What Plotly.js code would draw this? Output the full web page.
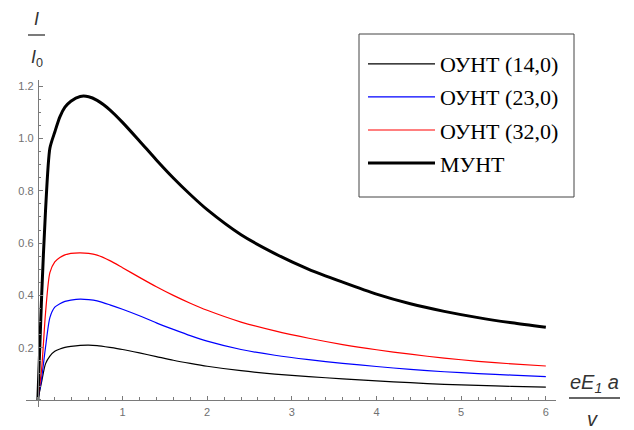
<!DOCTYPE html>
<html>
<head>
<meta charset="utf-8">
<script src="https://cdn.plot.ly/plotly-3.0.1.min.js"></script>
<style>html,body{margin:0;padding:0;background:#fff;}#chart{width:634px;height:430px;}</style>
</head>
<body>
<div id="chart"></div>
<script>
// Field parameter eE1a/ν (x) and current I/I0 (y)
const xField = [0, 0.045, 0.09, 0.142, 0.2, 0.26, 0.32, 0.39, 0.5, 0.6, 0.7, 0.85, 1.0, 1.2, 1.4, 1.6, 1.8, 2.0, 2.4, 2.8, 3.2, 3.6, 4.0, 4.4, 4.8, 5.2, 5.6, 6.0];

const seriesNames = ["ОУНТ (14,0)", "ОУНТ (23,0)", "ОУНТ (32,0)", "МУНТ"];

const y14 = [0, 0.07, 0.138, 0.168, 0.186, 0.195, 0.201, 0.205, 0.209, 0.210, 0.208, 0.201, 0.193, 0.180, 0.166, 0.152, 0.140, 0.129, 0.112, 0.099, 0.089, 0.081, 0.073, 0.066, 0.060, 0.056, 0.052, 0.049];
const y23 = [0, 0.085, 0.20, 0.315, 0.355, 0.368, 0.377, 0.382, 0.386, 0.384, 0.379, 0.364, 0.347, 0.322, 0.295, 0.270, 0.246, 0.225, 0.193, 0.171, 0.154, 0.140, 0.128, 0.117, 0.108, 0.101, 0.095, 0.089];
const y32 = [0, 0.12, 0.33, 0.487, 0.528, 0.545, 0.555, 0.561, 0.563, 0.561, 0.554, 0.533, 0.506, 0.469, 0.433, 0.400, 0.370, 0.343, 0.298, 0.264, 0.236, 0.212, 0.192, 0.175, 0.160, 0.148, 0.138, 0.130];
const yMWNT = [0, 0.40, 0.72, 0.963, 1.025, 1.083, 1.12, 1.143, 1.161, 1.160, 1.146, 1.110, 1.062, 0.991, 0.918, 0.849, 0.786, 0.728, 0.632, 0.560, 0.500, 0.451, 0.405, 0.368, 0.339, 0.315, 0.295, 0.278];

const xTickVals = [1, 2, 3, 4, 5, 6];
const xTickText = ["1", "2", "3", "4", "5", "6"];
const yTickVals = [0.2, 0.4, 0.6, 0.8, 1.0, 1.2];
const yTickText = ["0.2", "0.4", "0.6", "0.8", "1.0", "1.2"];

const W = 634, H = 430;
const xRange = [-0.14, 6.12], yRange = [-0.025, 1.224];
const xDom = [26 / W, 556 / W], yDom = [1 - 406.5 / H, 1 - 80 / H];
const yAxisPos = xDom[0] + (0 - xRange[0]) / (xRange[1] - xRange[0]) * (xDom[1] - xDom[0]);
const xAxisPos = yDom[0] + (0 - yRange[0]) / (yRange[1] - yRange[0]) * (yDom[1] - yDom[0]);

const ys = [y14, y23, y32, yMWNT];
const colors = ["#000000", "#0000ff", "#ff0000", "#000000"];
const widths = [1.2, 1.2, 1.2, 3];

const traces = ys.map((y, i) => ({
  type: "scatter", mode: "lines", x: xField, y: y, name: seriesNames[i],
  legendgroup: "g" + i,
  line: {color: colors[i], width: widths[i], shape: "spline", smoothing: 0.7}
}));

const axisCol = "#7a7a7a";
const tickFont = {family: "Liberation Sans, Arial, sans-serif", size: 11, color: "#707070"};
const titleFont = {family: "Liberation Sans, Arial, sans-serif", size: 18, color: "#333"};
const px = v => v / W, py = v => 1 - v / H;

const layout = {
  width: W, height: H,
  margin: {l: 0, r: 0, t: 0, b: 0},
  paper_bgcolor: "#fff", plot_bgcolor: "#fff",
  showlegend: true,
  legend: {
    x: px(363), y: py(43), xanchor: "left", yanchor: "top",
    borderwidth: 0, bgcolor: "rgba(0,0,0,0)",
    font: {family: "Liberation Serif, Times New Roman, serif", size: 22, color: "#000"},
    tracegroupgap: 1.5, itemwidth: 67
  },
  xaxis: {
    domain: xDom, range: xRange, anchor: "free", position: xAxisPos,
    showline: true, linecolor: axisCol, linewidth: 1,
    showgrid: false, zeroline: false,
    tickmode: "array", tickvals: xTickVals, ticktext: xTickText,
    ticks: "inside", ticklen: 4, tickwidth: 1, tickcolor: axisCol,
    tickfont: tickFont, ticklabelstandoff: 2,
    minor: {dtick: 0.2, tick0: 0, ticks: "inside", ticklen: 2.5, tickwidth: 1, tickcolor: axisCol, showgrid: false}
  },
  yaxis: {
    domain: yDom, range: yRange, anchor: "free", position: yAxisPos,
    showline: true, linecolor: axisCol, linewidth: 1,
    showgrid: false, zeroline: false,
    tickmode: "array", tickvals: yTickVals, ticktext: yTickText,
    ticks: "inside", ticklen: 4, tickwidth: 1, tickcolor: axisCol,
    tickfont: tickFont, ticklabelstandoff: 2,
    minor: {dtick: 0.05, tick0: 0, ticks: "inside", ticklen: 2.5, tickwidth: 1, tickcolor: axisCol, showgrid: false}
  },
  annotations: [
    {xref: "paper", yref: "paper", x: px(36), y: py(19), text: "<i>I</i>", showarrow: false, font: titleFont, xanchor: "center", yanchor: "middle"},
    {xref: "paper", yref: "paper", x: px(37), y: py(58), text: "<i>I</i><sub>0</sub>", showarrow: false, font: titleFont, xanchor: "center", yanchor: "middle"},
    {xref: "paper", yref: "paper", x: px(594), y: py(383), text: "<i>eE</i><sub><i>1</i></sub> <i>a</i>", showarrow: false, font: {family: titleFont.family, size: 20, color: "#333"}, xanchor: "center", yanchor: "middle"},
    {xref: "paper", yref: "paper", x: px(592), y: py(419), text: "<i>v</i>", showarrow: false, font: {family: titleFont.family, size: 20, color: "#333"}, xanchor: "center", yanchor: "middle"}
  ],
  shapes: [
    {type: "line", xref: "paper", yref: "paper", x0: px(28), x1: px(45), y0: py(35), y1: py(35), line: {color: "#333", width: 1.3}},
    {type: "line", xref: "paper", yref: "paper", x0: px(569), x1: px(620), y0: py(398), y1: py(398), line: {color: "#333", width: 1.3}},
    {type: "rect", xref: "paper", yref: "paper", x0: px(359), x1: px(574), y0: py(34), y1: py(197), line: {color: "#444", width: 1}, fillcolor: "rgba(0,0,0,0)", layer: "above"}
  ]
};

Plotly.newPlot("chart", traces, layout, {displayModeBar: false, staticPlot: true});
</script>
</body>
</html>
